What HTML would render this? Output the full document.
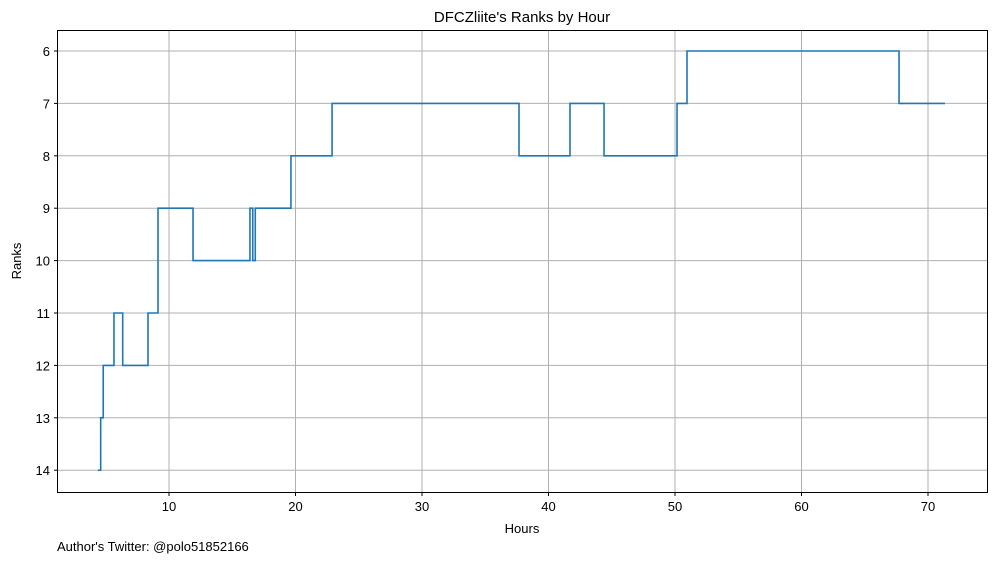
<!DOCTYPE html>
<html><head><meta charset="utf-8"><style>
body{margin:0;background:#fff;}
svg text{font-family:"Liberation Sans",sans-serif;fill:#000;}
</style></head><body>
<svg id="chart" width="997" height="562">
<text x="522" y="22" font-size="15" text-anchor="middle">DFCZliite's Ranks by Hour</text>
<g id="grid"></g>
<g id="ticks"></g>
<path id="line" fill="none" stroke="#1f77b4" stroke-width="1.6"/>
<rect x="57.5" y="30.5" width="930" height="462" fill="none" stroke="#000" stroke-width="1"/>
<text x="522" y="533" font-size="13" text-anchor="middle">Hours</text>
<text transform="translate(21,261) rotate(-90)" font-size="13" text-anchor="middle">Ranks</text>
<text x="57" y="551" font-size="13">Author's Twitter: @polo51852166</text>
</svg>
<script>
const hours=[4.39,4.6,4.8,5.65,6.34,8.34,9.13,11.9,16.4,16.62,16.82,19.64,22.89,37.67,41.7,44.39,50.16,50.95,67.71,71.34];
const ranks=[14,13,12,11,12,11,9,10,9,10,9,8,7,8,7,8,7,6,7,7];
const xTicks=[10,20,30,40,50,60,70];
const yTicks=[6,7,8,9,10,11,12,13,14];
const X=h=>42.5+h*12.65;
const Y=r=>51+(r-6)*52.4;
const ns="http://www.w3.org/2000/svg";
const grid=document.getElementById('grid'),tk=document.getElementById('ticks');
function mk(tag,attrs,parent){const e=document.createElementNS(ns,tag);for(const k in attrs)e.setAttribute(k,attrs[k]);parent.appendChild(e);return e;}
xTicks.forEach(v=>{const x=X(v);
const g=mk('line',{x1:x,x2:x,y1:30.5,y2:492.5,stroke:'#b0b0b0','stroke-width':1},grid);


mk('line',{x1:x,x2:x,y1:492.5,y2:496,stroke:'#000'},tk);
const t=mk('text',{x:x,y:511,'font-size':13,'text-anchor':'middle'},tk);t.textContent=v;

});
yTicks.forEach(v=>{const y=Y(v);
const g=mk('line',{x1:57.5,x2:987.5,y1:y,y2:y,stroke:'#b0b0b0','stroke-width':1},grid);


mk('line',{x1:54,x2:57.5,y1:y,y2:y,stroke:'#000'},tk);
const t=mk('text',{x:50,y:y+5,'font-size':13,'text-anchor':'end'},tk);t.textContent=v;

});
let d='M'+X(hours[0])+','+Y(ranks[0]);
for(let i=1;i<hours.length;i++){d+=' H'+X(hours[i])+' V'+Y(ranks[i]);}
document.getElementById('line').setAttribute('d',d);
</script>
</body></html>
